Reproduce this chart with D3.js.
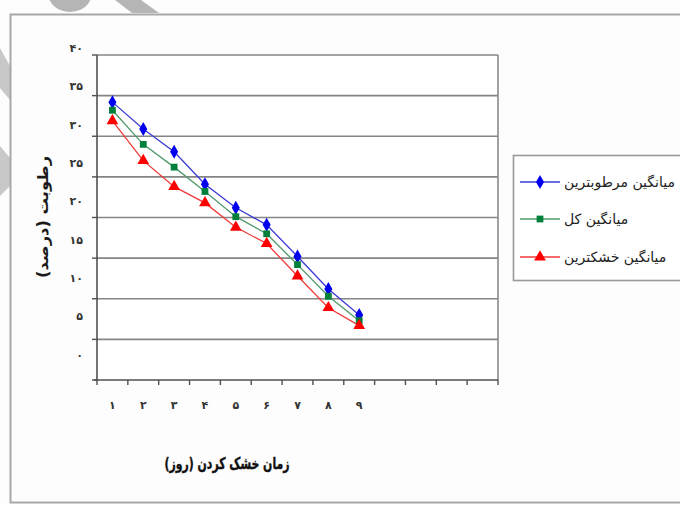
<!DOCTYPE html>
<html>
<head>
<meta charset="utf-8">
<script src="https://cdn.jsdelivr.net/npm/d3@7"></script>
<style>
  html, body { margin: 0; padding: 0; background: #fdfdfd; }
  svg { display: block; }
  text { font-family: "DejaVu Sans", sans-serif; }
</style>
</head>
<body>
<svg id="chart" width="680" height="505"></svg>
<script>
// Drying days and their Persian labels
const days = [1, 2, 3, 4, 5, 6, 7, 8, 9];
const dayLabels = ["۱", "۲", "۳", "۴", "۵", "۶", "۷", "۸", "۹"];
const slotCount = 13;

// Moisture (percent) per day
const wettest = [34.2, 30.9, 28.1, 24.1, 21.2, 19.1, 15.2, 11.2, 8.0];
const overall = [33.2, 29.0, 26.2, 23.2, 20.1, 18.0, 14.2, 10.3, 7.3];
const driest  = [31.9, 27.0, 23.8, 21.8, 18.8, 16.8, 12.8, 8.9, 6.7];

const yTicks = [0, 5, 10, 15, 20, 25, 30, 35, 40];
const yTickLabels = ["۰", "۵", "۱۰", "۱۵", "۲۰", "۲۵", "۳۰", "۳۵", "۴۰"];

const seriesNames = ["میانگین مرطوبترین", "میانگین کل", "میانگین خشکترین"];
const xTitle = "زمان خشک کردن (روز)";
const yTitle = "رطوبت (درصد)";

const series = [
  { name: seriesNames[0], values: wettest, line: "#3a3ad6", mark: "#0000ee", symbol: d3.symbolDiamond, size: 56 },
  { name: seriesNames[1], values: overall, line: "#4f9a6c", mark: "#00803a", symbol: d3.symbolSquare, size: 46 },
  { name: seriesNames[2], values: driest,  line: "#f03a3a", mark: "#ff0000", symbol: d3.symbolTriangle, size: 60 }
];

const svg = d3.select("#chart");

// faint watermark fragments along the top and left edges
const wm = svg.append("g").attr("fill", "#b5b5b5");
wm.append("ellipse").attr("cx", 70).attr("cy", -7).attr("rx", 22).attr("ry", 19);
wm.append("path").attr("d", "M115,0 L141,0 L159,13 L132,13 Z");
wm.append("path").attr("fill", "#c8c8c8").attr("d", "M0,48 L10,66 L10,100 L0,88 Z");
wm.append("path").attr("fill", "#c8c8c8").attr("d", "M0,146 L10,158 L10,186 L0,196 Z");

// outer frame
svg.append("rect")
  .attr("x", 10.5).attr("y", 14.5).attr("width", 700).attr("height", 488)
  .attr("fill", "#fdfdfd").attr("stroke", "#a8a8a8").attr("stroke-width", 2);

const plot = { left: 97, right: 498, top: 55, bottom: 380 };

const x = d3.scaleLinear().domain([0.5, slotCount + 0.5]).range([plot.left, plot.right]);
const y = d3.scaleLinear().domain([0, 40]).range([plot.bottom, plot.top]);
// tick label placement for the value axis
const yLab = d3.scaleLinear().domain([0, 40]).range([355, 48]);

// plot area
svg.append("rect")
  .attr("x", plot.left).attr("y", plot.top)
  .attr("width", plot.right - plot.left).attr("height", plot.bottom - plot.top)
  .attr("fill", "#ffffff");

// horizontal gridlines
svg.append("g").selectAll("line")
  .data(yTicks.filter(v => v > 0))
  .join("line")
  .attr("x1", plot.left).attr("x2", plot.right)
  .attr("y1", d => y(d)).attr("y2", d => y(d))
  .attr("stroke", "#858585").attr("stroke-width", 1.6);

// right edge of plot
svg.append("line")
  .attr("x1", plot.right).attr("x2", plot.right)
  .attr("y1", plot.top).attr("y2", plot.bottom)
  .attr("stroke", "#8a8a8a").attr("stroke-width", 1.6);

// value axis
const yAxis = svg.append("g");
yAxis.append("line")
  .attr("x1", plot.left).attr("x2", plot.left)
  .attr("y1", plot.top).attr("y2", plot.bottom + 1)
  .attr("stroke", "#505050").attr("stroke-width", 1.6);
yAxis.selectAll("line.tk")
  .data(yTicks)
  .join("line").attr("class", "tk")
  .attr("x1", plot.left - 5).attr("x2", plot.left)
  .attr("y1", d => y(d)).attr("y2", d => y(d))
  .attr("stroke", "#505050").attr("stroke-width", 1.4);
yAxis.selectAll("text")
  .data(yTicks)
  .join("text")
  .attr("x", 83).attr("y", d => yLab(d)).attr("dy", "0.35em")
  .attr("text-anchor", "end")
  .attr("font-size", 11).attr("font-weight", "bold").attr("fill", "#333")
  .text((d, i) => yTickLabels[i]);

// category axis
const xAxis = svg.append("g");
xAxis.append("line")
  .attr("x1", plot.left - 3).attr("x2", plot.right)
  .attr("y1", plot.bottom).attr("y2", plot.bottom)
  .attr("stroke", "#505050").attr("stroke-width", 1.6);
xAxis.selectAll("line.tk")
  .data(d3.range(0, slotCount + 1))
  .join("line").attr("class", "tk")
  .attr("x1", d => x(d + 0.5)).attr("x2", d => x(d + 0.5))
  .attr("y1", plot.bottom).attr("y2", plot.bottom + 5)
  .attr("stroke", "#505050").attr("stroke-width", 1.4);
xAxis.selectAll("text")
  .data(days)
  .join("text")
  .attr("x", d => x(d)).attr("y", 405).attr("dy", "0.35em")
  .attr("text-anchor", "middle")
  .attr("font-size", 11).attr("font-weight", "bold").attr("fill", "#333")
  .text((d, i) => dayLabels[i]);

// axis titles (condensed / widened to the frame's lettering)
svg.append("text")
  .attr("transform", "translate(227,463) scale(0.68,1)")
  .attr("dy", "0.35em")
  .attr("text-anchor", "middle")
  .attr("font-size", 16).attr("font-weight", "bold").attr("fill", "#111")
  .attr("stroke", "#111").attr("stroke-width", 0.4)
  .text(xTitle);

svg.append("text")
  .attr("transform", "translate(43,217) rotate(-90) scale(1.09,1)")
  .attr("dy", "0.35em")
  .attr("text-anchor", "middle")
  .attr("font-size", 15).attr("font-weight", "bold").attr("fill", "#1a1a1a")
  .text(yTitle);

// series lines and markers
const line = d3.line().x((d, i) => x(days[i])).y(d => y(d));
series.forEach(s => {
  svg.append("path")
    .datum(s.values)
    .attr("d", line)
    .attr("fill", "none").attr("stroke", s.line).attr("stroke-width", 1.3);
});
series.forEach(s => {
  svg.append("g").selectAll("path")
    .data(s.values)
    .join("path")
    .attr("transform", (d, i) => `translate(${x(days[i])},${y(d)})`)
    .attr("d", d3.symbol().type(s.symbol).size(s.size))
    .attr("fill", s.mark);
});

// legend
const legend = svg.append("g");
legend.append("rect")
  .attr("x", 513.5).attr("y", 155.5).attr("width", 200).attr("height", 125)
  .attr("fill", "#ffffff").attr("stroke", "#9a9a9a").attr("stroke-width", 1.6);
const rowY = [182, 219, 257];
series.forEach((s, i) => {
  const g = legend.append("g").attr("transform", `translate(0,${rowY[i]})`);
  g.append("line").attr("x1", 520).attr("x2", 560).attr("y1", 0).attr("y2", 0)
    .attr("stroke", s.line).attr("stroke-width", 1.3);
  g.append("path").attr("transform", "translate(540,0)")
    .attr("d", d3.symbol().type(s.symbol).size(s.size)).attr("fill", s.mark);
  g.append("text").attr("x", 564).attr("y", 0)
    .attr("dy", "0.35em")
    .attr("font-size", 14).attr("fill", "#222")
    .text(s.name);
});
</script>
</body>
</html>
